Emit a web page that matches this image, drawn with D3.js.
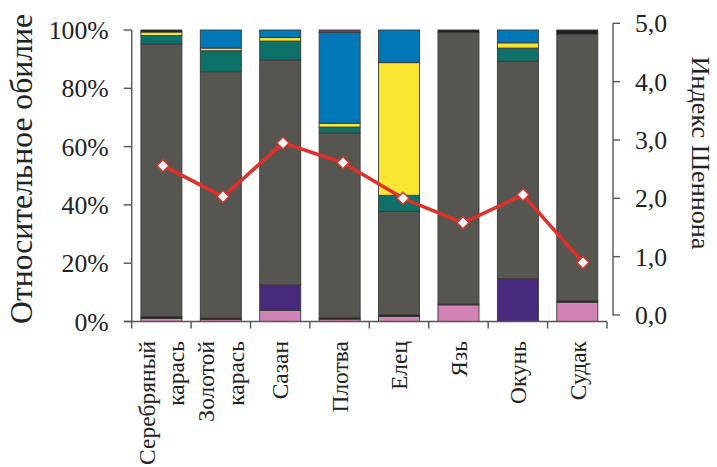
<!DOCTYPE html>
<html>
<head>
<meta charset="utf-8">
<script src="https://cdn.jsdelivr.net/npm/d3@7/dist/d3.min.js"></script>
<style>
  html, body { margin: 0; padding: 0; background: #fff; }
  svg { display: block; }
  text { font-family: "Liberation Serif", "Times New Roman", serif; fill: #222; }
</style>
</head>
<body>
<svg id="chart" width="717" height="467"></svg>
<script>
// Fish species (x categories)
const categories = ["Серебряный карась", "Золотой карась", "Сазан", "Плотва", "Елец", "Язь", "Окунь", "Судак"];

// Relative abundance of diet components, % (stacked bottom to top)
const pinkShare     = [1.1, 0.7, 3.8, 0.8, 1.7, 5.7, 0.0, 6.6];
const violetShare   = [0.0, 0.0, 8.8, 0.0, 0.0, 0.0, 14.7, 0.0];
const darkShare     = [0.6, 0.5, 0.0, 0.5, 0.6, 0.3, 0.0, 0.5];
const greyShare     = [93.5, 84.5, 77.1, 63.4, 35.5, 93.1, 74.6, 91.5];
const tealShare     = [2.9, 7.2, 6.5, 2.0, 5.5, 0.0, 4.5, 0.0];
const yellowShare   = [1.2, 0.9, 1.2, 1.3, 45.5, 0.0, 1.8, 0.0];
const blueShare     = [0.0, 6.2, 2.6, 31.2, 11.2, 0.0, 4.4, 0.0];
const lilacShare    = [0.0, 0.0, 0.0, 0.8, 0.0, 0.0, 0.0, 0.0];
const blackTopShare = [0.7, 0.0, 0.0, 0.0, 0.0, 0.9, 0.0, 1.4];

// Shannon diversity index per species
const shannonIndex = [2.56, 2.03, 2.95, 2.61, 2.00, 1.58, 2.06, 0.90];

// Axis tick values
const percentTicks = [0, 20, 40, 60, 80, 100];
const shannonTicks = [0, 1, 2, 3, 4, 5];

const seriesDefs = [
  { key: "pink",     values: pinkShare,     color: "#d283b5" },
  { key: "violet",   values: violetShare,   color: "#472a7c" },
  { key: "dark",     values: darkShare,     color: "#1c1c1c" },
  { key: "grey",     values: greyShare,     color: "#575550" },
  { key: "teal",     values: tealShare,     color: "#0d7069" },
  { key: "yellow",   values: yellowShare,   color: "#f8e632" },
  { key: "blue",     values: blueShare,     color: "#0077b6" },
  { key: "lilac",    values: lilacShare,    color: "#6b3f82" },
  { key: "blackTop", values: blackTopShare, color: "#1c1c1c" }
];

const rows = categories.map((c, i) => {
  const r = { cat: c };
  seriesDefs.forEach(s => { r[s.key] = s.values[i]; });
  return r;
});

const svg = d3.select("#chart");
const axisColor = "#555";

// Font size that gives a string the wanted rendered length
function fitSize(str, targetLen) {
  const probe = svg.append("text").attr("font-size", 100).text(str);
  const len = probe.node().getComputedTextLength();
  probe.remove();
  return 100 * targetLen / len;
}
const tickFont = fitSize("100%", 60);
const catFont = fitSize("Серебряный", 124);

const x = d3.scaleBand().domain(categories).range([131.7, 607]).paddingInner(0.31).paddingOuter(0.155);
const xLine = d3.scaleBand().domain(categories).range([133, 613]);
const y = d3.scaleLinear().domain([0, 100]).range([321.5, 30]);
const y2 = d3.scaleLinear().domain([0, 5]).range([315, 23.3]);

// Stacked bars
const stack = d3.stack().keys(seriesDefs.map(s => s.key));
const layers = stack(rows);
const colorOf = Object.fromEntries(seriesDefs.map(s => [s.key, s.color]));

svg.append("g").selectAll("g")
  .data(layers)
  .join("g")
  .attr("fill", d => colorOf[d.key])
  .selectAll("rect")
  .data(d => d.filter(p => p[1] - p[0] > 0))
  .join("rect")
  .attr("x", d => x(d.data.cat))
  .attr("width", x.bandwidth())
  .attr("y", d => y(d[1]))
  .attr("height", d => y(d[0]) - y(d[1]))
  .attr("stroke", "#3a3a3a")
  .attr("stroke-width", 0.9);

// Left axis
const gL = svg.append("g").attr("transform", "translate(131.7,0)");
gL.append("line").attr("x1", 0).attr("x2", 0).attr("y1", y(100)).attr("y2", y(0))
  .attr("stroke", axisColor).attr("stroke-width", 1.4);
gL.selectAll("line.t").data(percentTicks).join("line").attr("class", "t")
  .attr("x1", -8).attr("x2", 0).attr("y1", d => y(d)).attr("y2", d => y(d))
  .attr("stroke", axisColor).attr("stroke-width", 1.4);
gL.selectAll("text").data(percentTicks).join("text")
  .attr("x", -23).attr("y", d => y(d)).attr("dy", "0.35em")
  .attr("text-anchor", "end").attr("font-size", tickFont)
  .text(d => d + "%");

// Right axis (Shannon index)
const gR = svg.append("g").attr("transform", "translate(613,0)");
gR.append("line").attr("x1", 0).attr("x2", 0).attr("y1", y2(5)).attr("y2", y2(0))
  .attr("stroke", axisColor).attr("stroke-width", 1.4);
gR.selectAll("line.t").data(shannonTicks).join("line").attr("class", "t")
  .attr("x1", 0).attr("x2", 7).attr("y1", d => y2(d)).attr("y2", d => y2(d))
  .attr("stroke", axisColor).attr("stroke-width", 1.4);
gR.selectAll("text").data(shannonTicks).join("text")
  .attr("x", 22).attr("y", d => y2(d)).attr("dy", "0.35em")
  .attr("text-anchor", "start").attr("font-size", tickFont)
  .text(d => d3.format(".1f")(d).replace(".", ","));

// Bottom axis
const boundaries = categories.map(c => x(c) - x.step() * x.paddingInner() / 2);
boundaries.push(607);
const gB = svg.append("g");
gB.append("line").attr("x1", 124).attr("x2", 607).attr("y1", y(0)).attr("y2", y(0))
  .attr("stroke", axisColor).attr("stroke-width", 1.4);
gB.selectAll("line.t").data(boundaries).join("line").attr("class", "t")
  .attr("x1", d => d).attr("x2", d => d).attr("y1", y(0)).attr("y2", y(0) + 7)
  .attr("stroke", axisColor).attr("stroke-width", 1.4);

// Category labels, rotated, one word per line
categories.forEach(c => {
  const words = c.split(" ");
  const cx = x(c) + x.bandwidth() / 2;
  words.forEach((w, i) => {
    const dx = (i - (words.length - 1) / 2) * 29.5;
    svg.append("text")
      .attr("transform", `translate(${cx + dx},341) rotate(-90)`)
      .attr("text-anchor", "end").attr("dy", "0.35em")
      .attr("font-size", catFont)
      .text(w);
  });
});

// Shannon index line with diamond markers
const line = d3.line()
  .x((d, i) => xLine(categories[i]) + xLine.bandwidth() / 2)
  .y(d => y2(d));
svg.append("path").datum(shannonIndex)
  .attr("d", line).attr("fill", "none")
  .attr("stroke", "#e0302a").attr("stroke-width", 3.6).attr("stroke-linejoin", "round");
svg.append("g").selectAll("path")
  .data(shannonIndex)
  .join("path")
  .attr("d", d3.symbol(d3.symbolSquare, 72)())
  .attr("transform", (d, i) => `translate(${xLine(categories[i]) + xLine.bandwidth() / 2},${y2(d)}) rotate(45)`)
  .attr("fill", "#fff").attr("stroke", "#e0302a").attr("stroke-width", 1.4);

// Axis titles
const leftTitle = "Относительное обилие";
const rightTitle = "Индекс Шеннона";
svg.append("text")
  .attr("transform", "translate(21,169) rotate(-90)")
  .attr("text-anchor", "middle").attr("dy", "0.35em")
  .attr("font-size", fitSize(leftTitle, 310))
  .text(leftTitle);
svg.append("text")
  .attr("transform", "translate(701,153) rotate(90)")
  .attr("text-anchor", "middle").attr("dy", "0.35em")
  .attr("font-size", fitSize(rightTitle, 193))
  .text(rightTitle);
</script>
</body>
</html>
